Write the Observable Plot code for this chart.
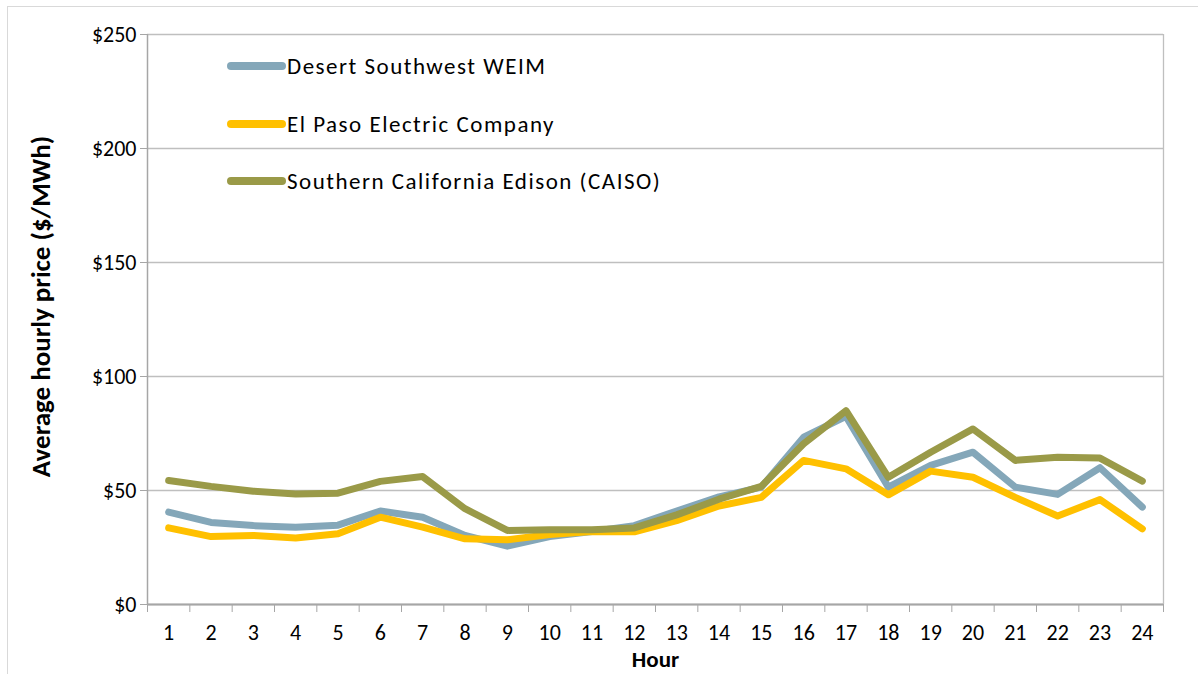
<!DOCTYPE html>
<html>
<head>
<meta charset="utf-8">
<script src="https://cdn.jsdelivr.net/npm/d3@7"></script>
<script src="https://cdn.jsdelivr.net/npm/@observablehq/plot@0.6"></script>
<style>
  html, body { margin: 0; padding: 0; background: #fff; }
  #wrap { position: relative; width: 1198px; height: 674px; overflow: hidden; font-family: Carlito, Lato, "Liberation Sans", sans-serif; }
  #frame { position: absolute; left: 7px; top: 6px; width: 1300px; height: 800px; border: 1px solid #d9d9d9; box-sizing: border-box; }
  #legend { position: absolute; left: 227px; top: 52px; font-size: 23px; letter-spacing: 1.5px; color: #000; }
  .item { position: absolute; left: 0; white-space: nowrap; display: flex; align-items: center; }
  .sw { display: inline-block; width: 59px; height: 8px; border-radius: 4px; margin-right: 1px; }
  svg { position: absolute; left: 0; top: 0; }
</style>
</head>
<body>
<div id="wrap"><div id="frame"></div></div>
<script>
const hours = d3.range(1, 25);
const seriesNames = ["Desert Southwest WEIM", "El Paso Electric Company", "Southern California Edison (CAISO)"];
const seriesColors = ["#84a7b9", "#ffc000", "#9a9a48"];
const desertSW = [40.5, 36, 34.6, 33.9, 34.8, 41, 38.3, 30.3, 25.6, 29.8, 32, 34.6, 41, 47.2, 51.5, 73.4, 82.5, 51.5, 61, 66.8, 51.5, 48.3, 60, 42.7];
const elPaso  = [33.6, 29.8, 30.3, 29.2, 31, 38.3, 33.9, 28.8, 28.4, 30.7, 32, 31.9, 36.8, 43.2, 47, 63.2, 59.5, 48.1, 58.5, 55.8, 47, 38.8, 46, 33.2];
const sce     = [54.4, 51.8, 49.7, 48.5, 48.8, 54, 56.1, 42, 32.5, 32.8, 32.8, 33.6, 39.3, 46.2, 51.8, 70.5, 85, 55.8, 66.8, 77, 63.2, 64.6, 64.2, 54.1];
const yTicks = [0, 50, 100, 150, 200, 250];
const seriesValues = [desertSW, elPaso, sce];

const data = [];
seriesValues.forEach((vals, i) => vals.forEach((v, j) => data.push({series: seriesNames[i], hour: hours[j], value: v})));

const font = "Carlito, Lato, 'Liberation Sans', sans-serif";
const chart = Plot.plot({
  width: 1198,
  height: 674,
  marginLeft: 147,
  marginRight: 35,
  marginTop: 34,
  marginBottom: 70,
  style: {fontFamily: font, fontSize: "22px", color: "#000", background: "transparent", overflow: "visible"},
  x: {type: "linear", domain: [0.5, 24.5]},
  y: {domain: [0, 250]},
  color: {domain: seriesNames, range: seriesColors},
  marks: [
    Plot.gridY(yTicks, {stroke: "#bfbfbf", strokeOpacity: 1, strokeWidth: 1.3}),
    Plot.ruleX([24.5], {stroke: "#bfbfbf", strokeWidth: 1.3}),
    Plot.ruleX([0.5], {stroke: "#a6a6a6", strokeWidth: 1.5}),
    Plot.ruleY([0], {stroke: "#a6a6a6", strokeWidth: 2}),
    Plot.axisY(yTicks, {tickSize: 7, tickPadding: 4, stroke: "#a6a6a6", tickFormat: d => "$" + d, fontSize: 22, label: null}),
    Plot.axisX(d3.range(0.5, 25, 1), {tickSize: 8, tickPadding: 0, stroke: "#a6a6a6", tickFormat: () => "", label: null}),
    Plot.axisX(hours, {tickSize: 0, tickPadding: 20, tickFormat: d => String(d), fontSize: 22, label: null}),
    Plot.text(["Average hourly price ($/MWh)"], {frameAnchor: "left", textAnchor: "middle", dx: -106, dy: -13, rotate: -90, fontWeight: "bold", fontSize: 27}),
    Plot.text(["Hour"], {frameAnchor: "bottom", dy: 62, fontWeight: "bold", fontSize: 23, letterSpacing: "1.5px"}),
    Plot.line(data, {x: "hour", y: "value", z: "series", stroke: "series", strokeWidth: 7, strokeLinecap: "round", strokeLinejoin: "round"})
  ]
});
const wrap = document.getElementById("wrap");
wrap.appendChild(chart);

const legend = document.createElement("div");
legend.id = "legend";
seriesNames.forEach((name, i) => {
  const item = document.createElement("div");
  item.className = "item";
  item.style.top = (i * 57.5) + "px";
  const sw = document.createElement("span");
  sw.className = "sw";
  sw.style.background = seriesColors[i];
  const t = document.createElement("span");
  t.textContent = name;
  item.appendChild(sw);
  item.appendChild(t);
  legend.appendChild(item);
});
wrap.appendChild(legend);
</script>
</body>
</html>
